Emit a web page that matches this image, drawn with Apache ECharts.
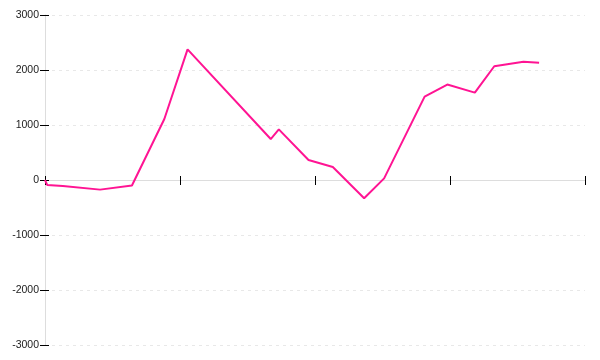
<!DOCTYPE html>
<html>
<head>
<meta charset="utf-8">
<script src="https://cdn.jsdelivr.net/npm/echarts@6/dist/echarts.min.js"></script>
<style>html,body{margin:0;padding:0;background:#fff}#c{width:600px;height:360px}</style>
</head>
<body>
<div id="c"></div>
<script>
// x positions (0..100 scale) and values
const xValues = [0, 0.4, 3.3, 10.2, 16.1, 22.1, 26.4, 41.8, 43.3, 48.8, 53.3, 59.1, 62.8, 70.3, 74.5, 79.6, 83.2, 88.6, 91.5];
const yValues = [0, -90, -110, -175, -100, 1110, 2375, 745, 920, 363, 235, -333, 30, 1515, 1735, 1588, 2068, 2150, 2133];
const yTicks = [-3000, -2000, -1000, 0, 1000, 2000, 3000];

const data = xValues.map((x, i) => [x, yValues[i]]);
const labelFont = { fontFamily: 'Liberation Sans', fontSize: 10.5, color: '#222' };

const chart = echarts.init(document.getElementById('c'), null, { renderer: 'canvas' });
chart.setOption({
  animation: false,
  grid: { left: 45, right: 15, top: 15, bottom: 15, containLabel: false },
  xAxis: [
    {
      type: 'value', min: 0, max: 100, interval: 25, position: 'bottom',
      axisLine: { onZero: true, lineStyle: { color: '#dddddd', width: 1 } },
      axisTick: { show: true, length: 5, lineStyle: { color: '#000', width: 1 } },
      axisLabel: { show: false },
      splitLine: { show: false }
    },
    {
      type: 'value', min: 0, max: 100, interval: 25, position: 'top',
      axisLine: { show: false, onZero: true },
      axisTick: { show: true, length: 4, lineStyle: { color: '#000', width: 1 } },
      axisLabel: { show: false },
      splitLine: { show: false }
    }
  ],
  yAxis: [
    {
      type: 'value', min: yTicks[0], max: yTicks[yTicks.length - 1], interval: 1000, position: 'left',
      axisLine: { show: false },
      axisTick: { show: true, length: 5, lineStyle: { color: '#000', width: 1 } },
      axisLabel: Object.assign({ margin: 6, formatter: v => String(v) }, labelFont),
      splitLine: { show: true, lineStyle: { color: '#e8e8e8', type: [3, 4], width: 1 } }
    },
    {
      type: 'value', min: yTicks[0], max: yTicks[yTicks.length - 1], interval: 1000, position: 'right',
      axisLine: { show: true, onZero: true, lineStyle: { color: '#dddddd', width: 1 } },
      axisTick: { show: true, length: 4, lineStyle: { color: '#000', width: 1 } },
      axisLabel: { show: false },
      splitLine: { show: false }
    }
  ],
  series: [{
    type: 'line', xAxisIndex: 0, yAxisIndex: 0, data: data,
    showSymbol: false, symbol: 'none',
    lineStyle: { color: '#ff1493', width: 2 },
    z: 5
  }]
});
</script>
</body>
</html>
